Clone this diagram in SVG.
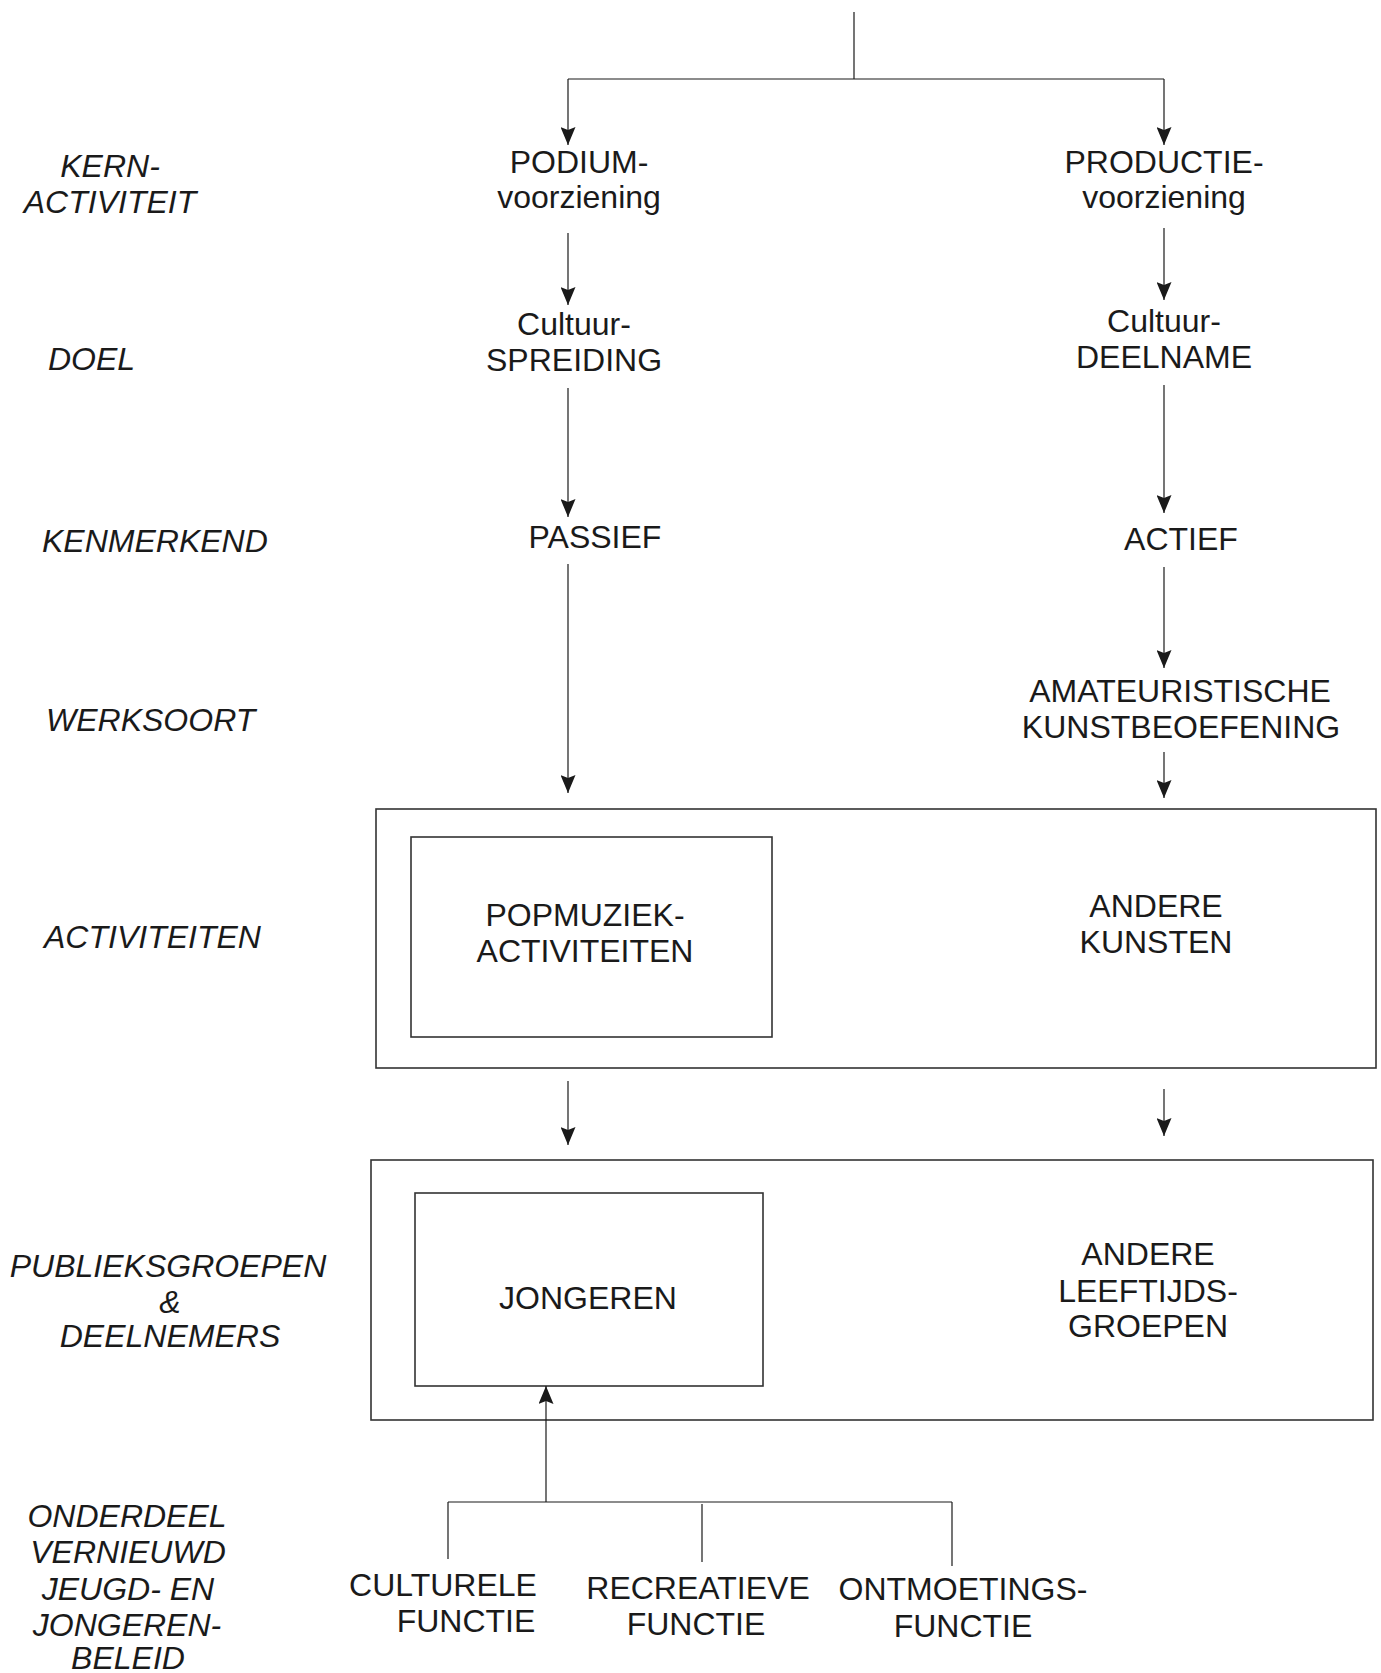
<svg xmlns="http://www.w3.org/2000/svg" width="1381" height="1673" viewBox="0 0 1381 1673">
<style>
text{font-family:"Liberation Sans",Arial,sans-serif;font-size:32px;fill:#1a1a1a}
.lbl{font-style:italic}
.c{text-anchor:middle}
.ln{fill:none;stroke:#1a1a1a;stroke-width:1.2}
.bx{fill:none;stroke:#333;stroke-width:1.6}
</style>
<defs>
<marker id="ah" markerUnits="userSpaceOnUse" markerWidth="18" markerHeight="15" viewBox="0 0 18 15" refX="18" refY="7.5" orient="auto">
<path d="M0,0 L18,7.5 L0,15 L3,7.5 Z" fill="#1a1a1a"/>
</marker>
</defs>
<rect width="1381" height="1673" fill="#fff"/>

<g id="labels">
<text class="lbl c" x="110" y="177">KERN-</text>
<text class="lbl c" x="110" y="213">ACTIVITEIT</text>
<text class="lbl" x="48" y="370">DOEL</text>
<text class="lbl" x="42" y="552">KENMERKEND</text>
<text class="lbl" x="46" y="731">WERKSOORT</text>
<text class="lbl" x="44" y="948">ACTIVITEITEN</text>
<text class="lbl c" x="168" y="1277">PUBLIEKSGROEPEN</text>
<text class="lbl c" x="170" y="1313">&amp;</text>
<text class="lbl c" x="170" y="1347">DEELNEMERS</text>
<text class="lbl c" x="127" y="1527">ONDERDEEL</text>
<text class="lbl c" x="128" y="1563">VERNIEUWD</text>
<text class="lbl c" x="128" y="1600">JEUGD- EN</text>
<text class="lbl c" x="127" y="1636">JONGEREN-</text>
<text class="lbl c" x="128" y="1669">BELEID</text>
</g>

<g id="podium">
<text class="c" x="579" y="173">PODIUM-</text>
<text class="c" x="579" y="208">voorziening</text>
</g>
<g id="productie">
<text class="c" x="1164" y="173">PRODUCTIE-</text>
<text class="c" x="1164" y="208">voorziening</text>
</g>
<g id="spreiding">
<text class="c" x="574" y="335">Cultuur-</text>
<text class="c" x="574" y="371">SPREIDING</text>
</g>
<g id="deelname">
<text class="c" x="1164" y="332">Cultuur-</text>
<text class="c" x="1164" y="368">DEELNAME</text>
</g>
<g id="passief">
<text class="c" x="595" y="548">PASSIEF</text>
</g>
<g id="actief">
<text class="c" x="1181" y="550">ACTIEF</text>
</g>
<g id="amateur">
<text class="c" x="1180" y="702">AMATEURISTISCHE</text>
<text class="c" x="1181" y="738">KUNSTBEOEFENING</text>
</g>

<g id="activiteiten">
<rect class="bx" x="376" y="809" width="1000" height="259"/>
</g>
<g id="popmuziek">
<rect class="bx" x="411" y="837" width="361" height="200"/>
<text class="c" x="585" y="926">POPMUZIEK-</text>
<text class="c" x="585" y="962">ACTIVITEITEN</text>
</g>
<g id="andere-kunsten">
<text class="c" x="1156" y="917">ANDERE</text>
<text class="c" x="1156" y="953">KUNSTEN</text>
</g>

<g id="publiek">
<rect class="bx" x="371" y="1160" width="1002" height="260"/>
</g>
<g id="jongeren">
<rect class="bx" x="415" y="1193" width="348" height="193"/>
<text class="c" x="588" y="1309">JONGEREN</text>
</g>
<g id="andere-leeftijd">
<text class="c" x="1148" y="1265">ANDERE</text>
<text class="c" x="1148" y="1302">LEEFTIJDS-</text>
<text class="c" x="1148" y="1337">GROEPEN</text>
</g>

<g id="culturele">
<text class="c" x="443" y="1596">CULTURELE</text>
<text class="c" x="466" y="1632">FUNCTIE</text>
</g>
<g id="recreatieve">
<text class="c" x="698" y="1599">RECREATIEVE</text>
<text class="c" x="696" y="1635">FUNCTIE</text>
</g>
<g id="ontmoetings">
<text class="c" x="963" y="1600">ONTMOETINGS-</text>
<text class="c" x="963" y="1637">FUNCTIE</text>
</g>

<g id="connectors">
<path class="ln" d="M854,12 V79"/>
<path class="ln" d="M568,79 H1164"/>
<path class="ln" d="M568,79 V145" marker-end="url(#ah)"/>
<path class="ln" d="M1164,79 V145" marker-end="url(#ah)"/>
<path class="ln" d="M568,233 V305" marker-end="url(#ah)"/>
<path class="ln" d="M1164,228 V300" marker-end="url(#ah)"/>
<path class="ln" d="M568,388 V517" marker-end="url(#ah)"/>
<path class="ln" d="M1164,385 V513" marker-end="url(#ah)"/>
<path class="ln" d="M568,564 V793" marker-end="url(#ah)"/>
<path class="ln" d="M1164,567 V668" marker-end="url(#ah)"/>
<path class="ln" d="M1164,752 V798" marker-end="url(#ah)"/>
<path class="ln" d="M568,1081 V1145" marker-end="url(#ah)"/>
<path class="ln" d="M1164,1089 V1136" marker-end="url(#ah)"/>
<path class="ln" d="M546,1502 V1386" marker-end="url(#ah)"/>
<path class="ln" d="M448,1502 H952"/>
<path class="ln" d="M448,1502 V1559"/>
<path class="ln" d="M702,1504 V1562"/>
<path class="ln" d="M952,1502 V1566"/>
</g>
</svg>
